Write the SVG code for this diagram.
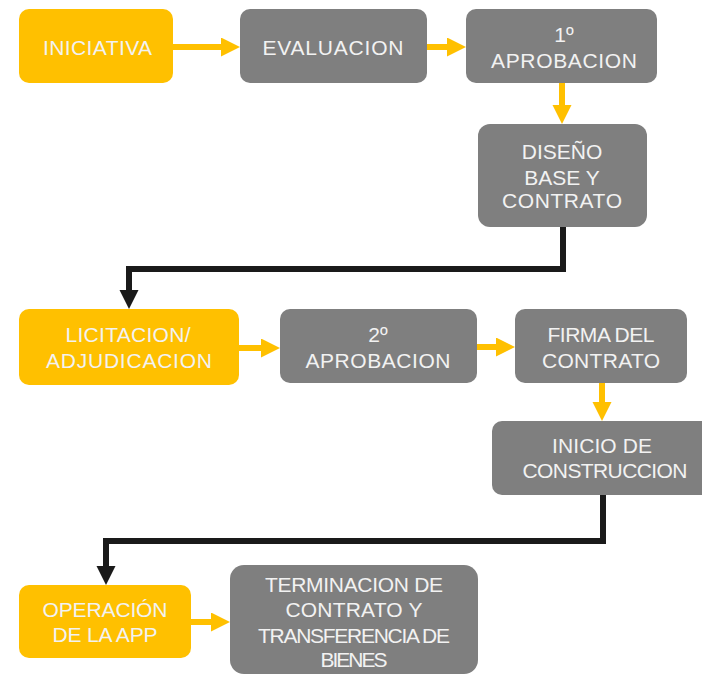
<svg xmlns="http://www.w3.org/2000/svg" width="702" height="675" viewBox="0 0 702 675">
<style>
.y{fill:#FFC000}
.g{fill:#7F7F7F}
text{font-family:"Liberation Sans",Arial,sans-serif;font-size:21px;fill:#F2F2F2;text-anchor:middle}
.ya{stroke:#FFC000;stroke-width:6;fill:none}
.ba{stroke:#1A1A1A;stroke-width:6;fill:none;stroke-linejoin:miter}
</style>
<defs>
<marker id="hy" markerUnits="userSpaceOnUse" markerWidth="20" markerHeight="20" refX="4" refY="9.5" orient="auto" viewBox="0 0 20 20">
<path d="M0,0 L19,9.5 L0,19 Z" fill="#FFC000"/>
</marker>
<marker id="hb" markerUnits="userSpaceOnUse" markerWidth="20" markerHeight="20" refX="4" refY="9.5" orient="auto" viewBox="0 0 20 20">
<path d="M0,0 L19,9.5 L0,19 Z" fill="#1A1A1A"/>
</marker>
</defs>
<g id="connectors">
<line class="ya" x1="173" y1="47" x2="225" y2="47" marker-end="url(#hy)"/>
<line class="ya" x1="427" y1="47" x2="451" y2="47" marker-end="url(#hy)"/>
<line class="ya" x1="562" y1="83" x2="562" y2="109" marker-end="url(#hy)"/>
<line class="ya" x1="239" y1="348" x2="265" y2="348" marker-end="url(#hy)"/>
<line class="ya" x1="477" y1="347" x2="500" y2="347" marker-end="url(#hy)"/>
<line class="ya" x1="602" y1="383" x2="602" y2="406" marker-end="url(#hy)"/>
<line class="ya" x1="191" y1="622" x2="215" y2="622" marker-end="url(#hy)"/>
<polyline class="ba" points="563,227 563,269 129,269 129,294" marker-end="url(#hb)"/>
<polyline class="ba" points="603,495 603,541 106,541 106,570" marker-end="url(#hb)"/>
</g>
<g id="n-iniciativa">
<rect class="y" x="19" y="9" width="154" height="74" rx="10"/>
<text x="97.5" y="55" textLength="109" lengthAdjust="spacing">INICIATIVA</text>
</g>
<g id="n-evaluacion">
<rect class="g" x="240" y="9" width="187" height="74" rx="10"/>
<text x="333" y="55" textLength="141" lengthAdjust="spacing">EVALUACION</text>
</g>
<g id="n-aprobacion1">
<rect class="g" x="466" y="9" width="191" height="74" rx="10"/>
<text x="564" y="42">1º</text>
<text x="564" y="68" textLength="146" lengthAdjust="spacing">APROBACION</text>
</g>
<g id="n-diseno">
<rect class="g" x="478" y="124" width="169" height="103" rx="12"/>
<text x="562" y="159">DISEÑO</text>
<text x="562" y="185">BASE Y</text>
<text x="562" y="208" textLength="120" lengthAdjust="spacing">CONTRATO</text>
</g>
<g id="n-licitacion">
<rect class="y" x="19" y="309" width="220" height="76" rx="10"/>
<text x="128" y="342" textLength="125" lengthAdjust="spacing">LICITACION/</text>
<text x="129" y="368" textLength="166" lengthAdjust="spacing">ADJUDICACION</text>
</g>
<g id="n-aprobacion2">
<rect class="g" x="280" y="309" width="197" height="74" rx="10"/>
<text x="378" y="342">2º</text>
<text x="378" y="368" textLength="145" lengthAdjust="spacing">APROBACION</text>
</g>
<g id="n-firma">
<rect class="g" x="515" y="309" width="172" height="74" rx="10"/>
<text x="601" y="342" textLength="107" lengthAdjust="spacing">FIRMA DEL</text>
<text x="601" y="368" textLength="118" lengthAdjust="spacing">CONTRATO</text>
</g>
<g id="n-inicio">
<rect class="g" x="492" y="421" width="220" height="74" rx="10"/>
<text x="602" y="453" textLength="100" lengthAdjust="spacing">INICIO DE</text>
<text x="605" y="478" textLength="165" lengthAdjust="spacing">CONSTRUCCION</text>
</g>
<g id="n-operacion">
<rect class="y" x="19" y="585" width="172" height="73" rx="10"/>
<text x="105" y="617" textLength="125" lengthAdjust="spacing">OPERACIÓN</text>
<text x="105" y="642" textLength="105" lengthAdjust="spacing">DE LA APP</text>
</g>
<g id="n-terminacion">
<rect class="g" x="230" y="565" width="248" height="109" rx="14"/>
<text x="354" y="592" textLength="178" lengthAdjust="spacing">TERMINACION DE</text>
<text x="354" y="617" textLength="137" lengthAdjust="spacing">CONTRATO Y</text>
<text x="354" y="643" textLength="192" lengthAdjust="spacing">TRANSFERENCIA DE</text>
<text x="354" y="667" textLength="67" lengthAdjust="spacing">BIENES</text>
</g>
</svg>
